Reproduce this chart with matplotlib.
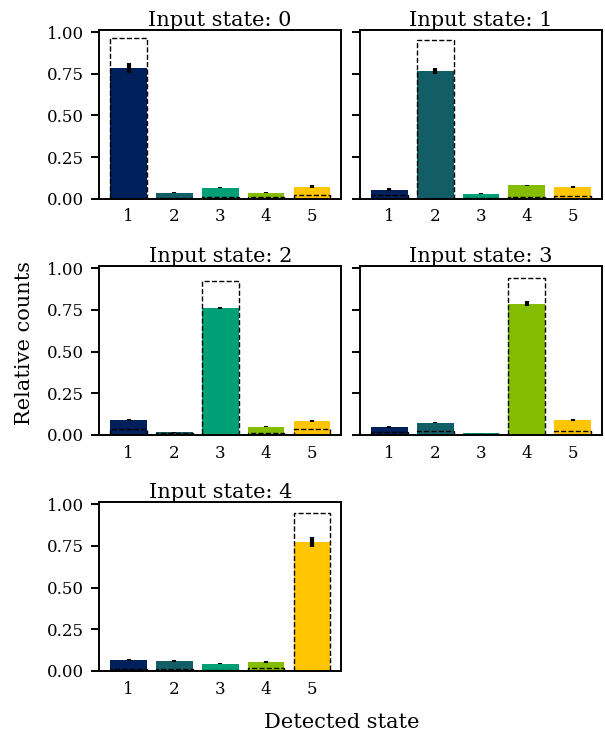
import numpy as np
import matplotlib
matplotlib.use("Agg")
import matplotlib.pyplot as plt

# detected states on the x axis
states = ["1", "2", "3", "4", "5"]
colors = ["#00205B", "#135E66", "#009F75", "#84BD00", "#FFC500"]

# measured relative counts, one row per input state
measured = [
    [0.784, 0.036, 0.066, 0.036, 0.072],
    [0.054, 0.766, 0.030, 0.080, 0.068],
    [0.089, 0.016, 0.760, 0.048, 0.083],
    [0.048, 0.073, 0.010, 0.787, 0.089],
    [0.066, 0.060, 0.044, 0.054, 0.773],
]
errors = [
    [0.030, 0.003, 0.004, 0.004, 0.008],
    [0.008, 0.016, 0.003, 0.004, 0.006],
    [0.006, 0.003, 0.006, 0.003, 0.006],
    [0.005, 0.004, 0.002, 0.016, 0.006],
    [0.006, 0.004, 0.003, 0.004, 0.030],
]
# expected (simulated) counts, drawn as dashed outlines
expected = [
    [0.964, 0.006, 0.012, 0.008, 0.020],
    [0.020, 0.952, 0.006, 0.012, 0.014],
    [0.034, 0.008, 0.925, 0.008, 0.034],
    [0.016, 0.020, 0.004, 0.944, 0.024],
    [0.014, 0.010, 0.008, 0.016, 0.946],
]

plt.rcParams["font.family"] = "DejaVu Serif"
plt.rcParams["axes.linewidth"] = 1.4

fig, axes = plt.subplots(3, 2, figsize=(6.05, 7.34), dpi=100, sharey=True)
fig.subplots_adjust(left=0.164, right=0.995, top=0.959, bottom=0.086,
                    wspace=0.078, hspace=0.40)

x = np.arange(len(states))
for i, ax in enumerate(axes.flat):
    if i >= len(measured):
        ax.axis("off")
        continue
    ax.bar(x, measured[i], width=0.8, color=colors)
    ax.bar(x, expected[i], width=0.8, fill=False, edgecolor="black",
           linestyle="--", linewidth=1.0)
    ax.errorbar(x, measured[i], yerr=errors[i], fmt="none", ecolor="black",
                elinewidth=3, capsize=0)
    ax.set_xticks(x)
    ax.set_xticklabels(states)
    ax.set_yticks([0, 0.25, 0.5, 0.75, 1.0])
    ax.tick_params(axis="x", length=0, labelsize=12, pad=7)
    ax.tick_params(axis="y", direction="out", length=6, width=1.4,
                   labelsize=12, pad=5)
    ax.set_title(f"Input state: {i}", fontsize=15, pad=3)

fig.supylabel("Relative counts", fontsize=15, x=0.025, y=0.533)
fig.supxlabel("Detected state", fontsize=15, x=0.565, y=0.003)

fig.savefig("out.png", dpi=100)
